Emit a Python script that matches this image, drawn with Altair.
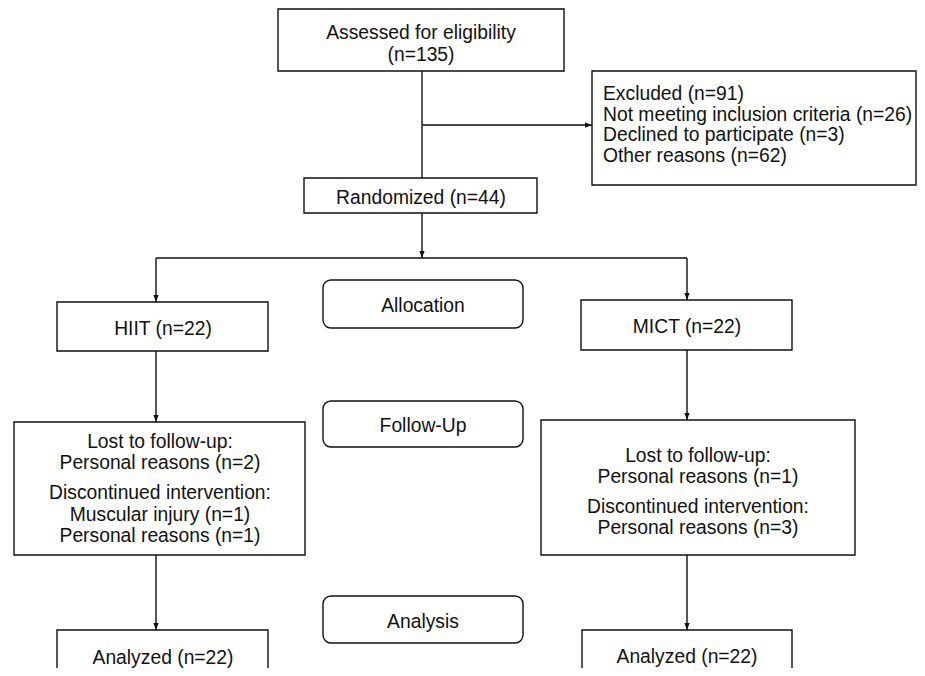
import altair as alt
import pandas as pd

# ---- Diagram content -------------------------------------------------------
# Boxes of the CONSORT flow diagram (layout in diagram units = reference pixels)
box_names = ["assessed", "excluded", "randomized", "hiit", "allocation", "mict",
             "hiit_fu", "followup", "mict_fu", "hiit_an", "analysis", "mict_an"]
box_x1 = [278, 592, 304, 57, 323, 581, 14, 323, 541, 57, 323, 582]
box_x2 = [564, 916, 537, 268, 523, 792, 305, 523, 855, 268, 523, 792]
box_y1 = [9, 71, 178, 302, 280, 300, 422, 401, 420, 630, 596, 630]
box_y2 = [71, 185, 213, 351, 328, 350, 555, 447, 555, 700, 643, 700]
box_rounded = [False, False, False, False, True, False, False, True, False, False, True, False]

# Text lines
text_lines = [
    "Assessed for eligibility", "(n=135)",
    "Excluded (n=91)", "Not meeting inclusion criteria (n=26)",
    "Declined to participate (n=3)", "Other reasons (n=62)",
    "Randomized (n=44)",
    "HIIT (n=22)", "Allocation", "MICT (n=22)",
    "Lost to follow-up:", "Personal reasons (n=2)", "Discontinued intervention:",
    "Muscular injury (n=1)", "Personal reasons (n=1)",
    "Follow-Up",
    "Lost to follow-up:", "Personal reasons (n=1)", "Discontinued intervention:",
    "Personal reasons (n=3)",
    "Analyzed (n=22)", "Analysis", "Analyzed (n=22)",
]
text_x = [421, 421,
          603, 603, 603, 603,
          421,
          163, 423, 687,
          160, 160, 160, 160, 160,
          423,
          698, 698, 698, 698,
          163, 423, 687]
text_y = [32.5, 54.5,
          94, 114.5, 135, 156,
          198,
          329, 305.5, 327,
          441.5, 462.5, 492.5, 514.5, 535.5,
          425.5,
          455.5, 476.5, 506.5, 528,
          657.5, 621.5, 657]
text_anchor = ["center", "center",
               "left", "left", "left", "left",
               "center",
               "center", "center", "center",
               "center", "center", "center", "center", "center",
               "center",
               "center", "center", "center", "center",
               "center", "center", "center"]

# Connector segments
seg_x1 = [422, 422, 422, 156, 156, 687, 156, 687, 156, 687]
seg_y1 = [71, 125, 213, 258, 258, 258, 351, 350, 555, 555]
seg_x2 = [422, 592, 422, 687, 156, 687, 156, 687, 156, 687]
seg_y2 = [178, 125, 258, 258, 302, 300, 422, 420, 630, 630]

# Arrow tips
down_tip_x = [422, 156, 687, 156, 687, 156, 687]
down_tip_y = [258, 302, 300, 422, 420, 630, 630]
right_tip_x = [592]
right_tip_y = [125]

# ---- Build tables ----------------------------------------------------------
boxes = pd.DataFrame({"name": box_names, "x1": box_x1, "x2": box_x2,
                      "y1": box_y1, "y2": box_y2, "rounded": box_rounded})
texts = pd.DataFrame({"label": text_lines, "x": text_x, "y": text_y, "anchor": text_anchor})
segs = pd.DataFrame({"x1": seg_x1, "y1": seg_y1, "x2": seg_x2, "y2": seg_y2})
AH = 7  # arrowhead size in px
downs = pd.DataFrame({"x": down_tip_x, "y": [v - AH / 2 for v in down_tip_y]})
rights = pd.DataFrame({"x": [v - AH / 2 for v in right_tip_x], "y": right_tip_y})

W, H = 909, 660
xs = alt.Scale(domain=[8, 8 + W], nice=False, zero=False)
ys = alt.Scale(domain=[8, 8 + H], nice=False, zero=False, reverse=True)

INK = "#111111"
SW = 1.4
FONT = "Liberation Sans"
FS = 19.3

def X(f):
    return alt.X(f, scale=xs, axis=None)

def Y(f):
    return alt.Y(f, scale=ys, axis=None)

sq = alt.Chart(boxes[~boxes["rounded"]]).mark_rect(
    fill="white", stroke=INK, strokeWidth=SW
).encode(x=X("x1:Q"), x2="x2:Q", y=Y("y1:Q"), y2="y2:Q")

rd = alt.Chart(boxes[boxes["rounded"]]).mark_rect(
    fill="white", stroke=INK, strokeWidth=SW, cornerRadius=8
).encode(x=X("x1:Q"), x2="x2:Q", y=Y("y1:Q"), y2="y2:Q")

rules = alt.Chart(segs).mark_rule(color=INK, strokeWidth=SW).encode(
    x=X("x1:Q"), x2="x2:Q", y=Y("y1:Q"), y2="y2:Q")

down_heads = alt.Chart(downs).mark_point(
    shape="M-0.75,-1L0.75,-1L0,1Z", filled=True, opacity=1, color=INK,
    size=AH * AH, strokeWidth=0
).encode(x=X("x:Q"), y=Y("y:Q"))

right_heads = alt.Chart(rights).mark_point(
    shape="M-1,-0.75L1,0L-1,0.75Z", filled=True, opacity=1, color=INK,
    size=AH * AH, strokeWidth=0
).encode(x=X("x:Q"), y=Y("y:Q"))

txt_c = alt.Chart(texts[texts["anchor"] == "center"]).mark_text(
    font=FONT, fontSize=FS, baseline="middle", align="center", color=INK
).encode(x=X("x:Q"), y=Y("y:Q"), text="label:N")

txt_l = alt.Chart(texts[texts["anchor"] == "left"]).mark_text(
    font=FONT, fontSize=FS, baseline="middle", align="left", color=INK
).encode(x=X("x:Q"), y=Y("y:Q"), text="label:N")

chart = alt.layer(sq, rd, rules, down_heads, right_heads, txt_c, txt_l).properties(
    width=W, height=H, padding=0, autosize=alt.AutoSizeParams(type="none"),
    background="white"
).configure_view(strokeWidth=0)

chart.save("out.html", embed_options={"renderer": "svg", "actions": False})
